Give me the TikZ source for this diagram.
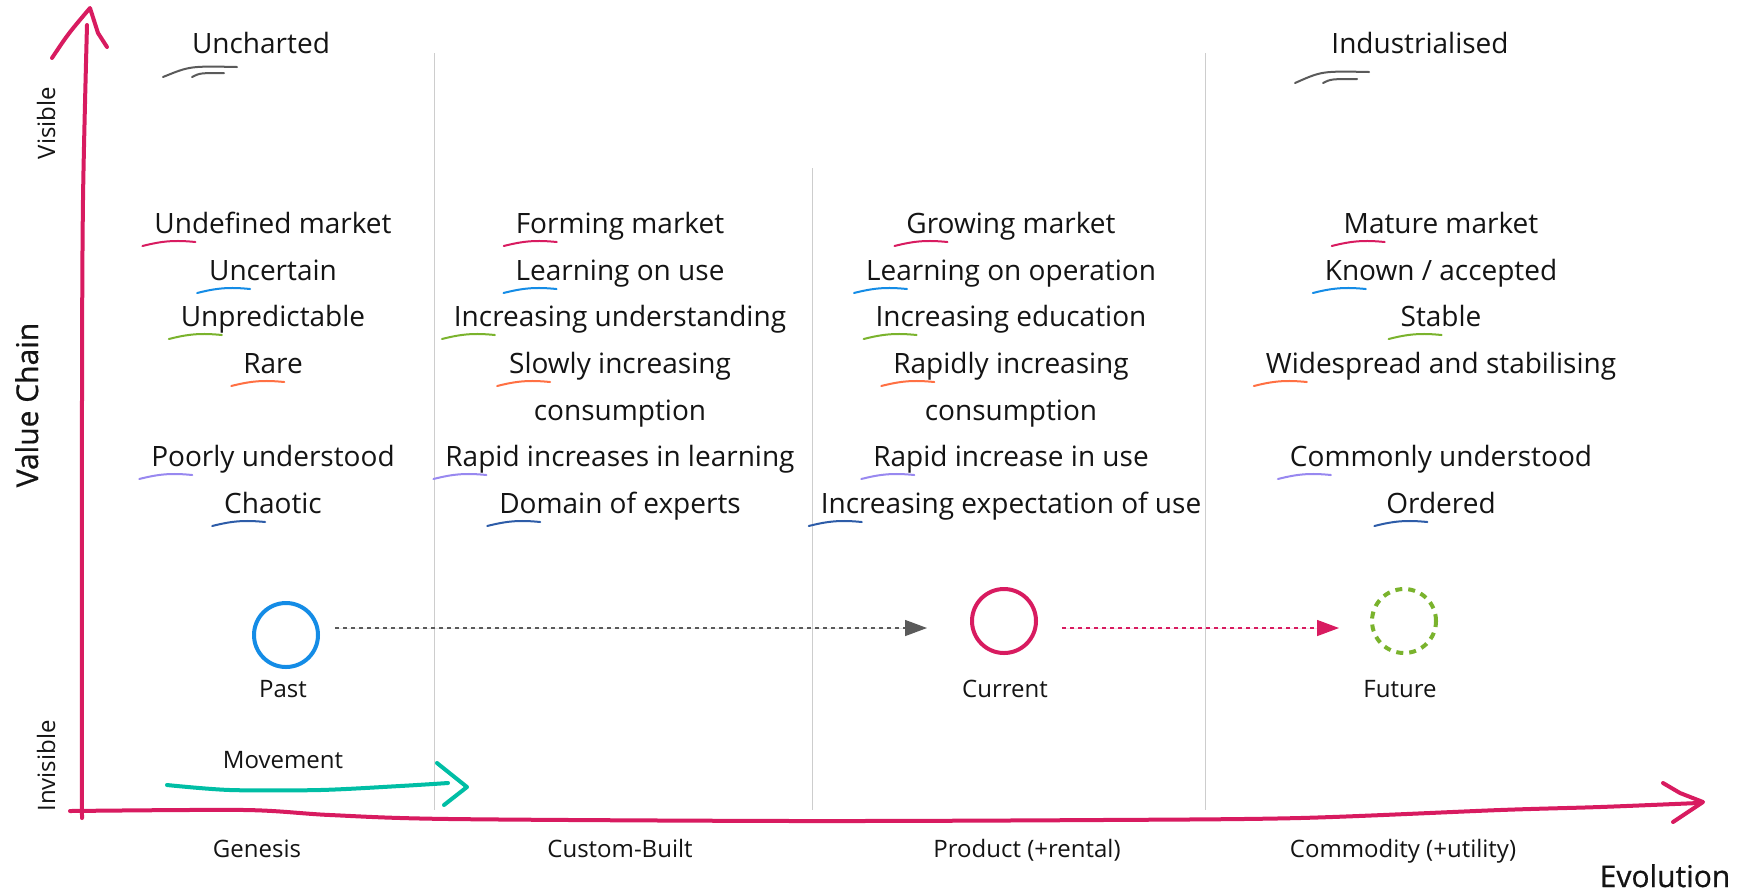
\documentclass[tikz,border=0pt]{standalone}
\usepackage{fontspec}
\setmainfont{Open Sans}
\newfontfamily\axisfont[FakeBold=0.6]{Open Sans}
\usepackage{tikz}
\usetikzlibrary{arrows.meta,calc}

% short coloured stroke under the start of a text node
\newcommand{\underscrib}[2]{%
  \draw[scrib,draw=#2] ($(#1.base west)+(-12,13)$) to[bend left=10] ($(#1.base west)+(41,9)$);}

\begin{document}
\begin{tikzpicture}[x=0.5pt,y=-0.5pt,
  lbl/.style={text=textColor,anchor=base,inner sep=0pt,outer sep=0pt,font=\fontsize{14}{16}\selectfont},
  small/.style={lbl,font=\fontsize{12}{14}\selectfont},
  big/.style={lbl,font=\axisfont\fontsize{15}{17}\selectfont},
  axis/.style={draw=axisPink,line width=2pt,line cap=round,line join=round},
  divider/.style={draw=dividerGray,line width=0.5pt},
  scrib/.style={line width=1pt,line cap=round},
  stage/.style={circle,minimum size=32pt,inner sep=0pt,line width=2pt},
  trend/.style={line width=0.7pt,dash pattern=on 2pt off 2pt,-{Triangle[length=11pt,width=8pt]}},
  move/.style={draw=moveTeal,line width=2pt,line cap=round,line join=round}]
\definecolor{fillColor}{RGB}{255,255,255}
\definecolor{textColor}{RGB}{20,20,20}
\definecolor{axisPink}{RGB}{216,27,96}
\definecolor{dividerGray}{RGB}{205,205,205}
\definecolor{scribGray}{RGB}{90,90,90}
\definecolor{rowPink}{RGB}{216,27,96}
\definecolor{rowBlue}{RGB}{20,140,230}
\definecolor{rowGreen}{RGB}{122,179,45}
\definecolor{rowOrange}{RGB}{255,112,67}
\definecolor{rowPurple}{RGB}{152,136,240}
\definecolor{rowNavy}{RGB}{45,92,168}
\definecolor{moveTeal}{RGB}{0,190,165}
\definecolor{trendGray}{RGB}{90,90,90}
\path[use as bounding box,fill=fillColor] (0,0) rectangle (1744,891);

% stage dividers
\path[divider] (434,53) -- (434,810);
\path[divider] (812,168) -- (812,810);
\path[divider] (1205,53) -- (1205,810);

% axes
\path[axis] plot[smooth] coordinates {(82,818) (82,400) (83,200) (87,25)};
\path[axis] (52,58) .. controls (68,34) .. (90,8) -- (98,33) -- (107,47);
\path[axis] plot[smooth] coordinates {(70,811) (245,810) (330,815) (450,819) (800,821)
    (1100,820) (1300,818) (1500,810) (1600,807) (1698,803)};
\path[axis] (1663,783) -- (1680,793) -- (1703,802) -- (1673,822);

\node[big,rotate=90] (valuechain) at (38,405) {Value Chain};
\node[small,rotate=90] (visible) at (55,123) {Visible};
\node[small,rotate=90] (invisible) at (55,766) {Invisible};
\node[big] (evolution) at (1665,887) {Evolution};

% top labels
\node[lbl] (uncharted) at (261,53) {Uncharted};
\node[lbl] (industrialised) at (1420,53) {Industrialised};
\draw[scrib,draw=scribGray] (163,77) .. controls (190,66) .. (237,67);
\draw[scrib,draw=scribGray] (192,77) .. controls (200,73) .. (224,73);
\draw[scrib,draw=scribGray] (1295,83) .. controls (1322,71) .. (1369,72);
\draw[scrib,draw=scribGray] (1323,83) .. controls (1331,79) .. (1357,79);

% genesis
\node[lbl] (gen1) at (273,233) {Undefined market};
\node[lbl] (gen2) at (273,280) {Uncertain};
\node[lbl] (gen3) at (273,326) {Unpredictable};
\node[lbl] (gen4) at (273,373) {Rare};
\node[lbl] (gen6) at (273,466) {Poorly understood};
\node[lbl] (gen7) at (273,513) {Chaotic};
\underscrib{gen1}{rowPink}
\underscrib{gen2}{rowBlue}
\underscrib{gen3}{rowGreen}
\underscrib{gen4}{rowOrange}
\underscrib{gen6}{rowPurple}
\underscrib{gen7}{rowNavy}

% custom-built
\node[lbl] (cus1) at (620,233) {Forming market};
\node[lbl] (cus2) at (620,280) {Learning on use};
\node[lbl] (cus3) at (620,326) {Increasing understanding};
\node[lbl] (cus4) at (620,373) {Slowly increasing};
\node[lbl] (cus5) at (620,420) {consumption};
\node[lbl] (cus6) at (620,466) {Rapid increases in learning};
\node[lbl] (cus7) at (620,513) {Domain of experts};
\underscrib{cus1}{rowPink}
\underscrib{cus2}{rowBlue}
\underscrib{cus3}{rowGreen}
\underscrib{cus4}{rowOrange}
\underscrib{cus6}{rowPurple}
\underscrib{cus7}{rowNavy}

% product
\node[lbl] (pro1) at (1011,233) {Growing market};
\node[lbl] (pro2) at (1011,280) {Learning on operation};
\node[lbl] (pro3) at (1011,326) {Increasing education};
\node[lbl] (pro4) at (1011,373) {Rapidly increasing};
\node[lbl] (pro5) at (1011,420) {consumption};
\node[lbl] (pro6) at (1011,466) {Rapid increase in use};
\node[lbl] (pro7) at (1011,513) {Increasing expectation of use};
\underscrib{pro1}{rowPink}
\underscrib{pro2}{rowBlue}
\underscrib{pro3}{rowGreen}
\underscrib{pro4}{rowOrange}
\underscrib{pro6}{rowPurple}
\underscrib{pro7}{rowNavy}

% commodity
\node[lbl] (com1) at (1441,233) {Mature market};
\node[lbl] (com2) at (1441,280) {Known / accepted};
\node[lbl] (com3) at (1441,326) {Stable};
\node[lbl] (com4) at (1441,373) {Widespread and stabilising};
\node[lbl] (com6) at (1441,466) {Commonly understood};
\node[lbl] (com7) at (1441,513) {Ordered};
\underscrib{com1}{rowPink}
\underscrib{com2}{rowBlue}
\underscrib{com3}{rowGreen}
\underscrib{com4}{rowOrange}
\underscrib{com6}{rowPurple}
\underscrib{com7}{rowNavy}

% stages in time
\node[stage,draw=rowBlue] (past) at (286,635) {};
\node[stage,draw=rowPink] (current) at (1004,621) {};
\node[stage,draw=rowGreen,dash pattern=on 3.5pt off 3pt] (future) at (1404,621) {};
\node[small] (pastlbl) at (283,697) {Past};
\node[small] (currentlbl) at (1005,697) {Current};
\node[small] (futurelbl) at (1400,697) {Future};
\draw[trend,draw=trendGray,fill=trendGray] ($(past.east)+(15,-7)$) -- ($(current.west)+(-43,7)$);
\draw[trend,draw=rowPink,fill=rowPink] ($(current.east)+(24,7)$) -- ($(future.west)+(-31,7)$);

% movement
\node[small] (movement) at (283,768) {Movement};
\path[move] plot[smooth] coordinates {(167,785) (230,790) (320,790) (400,786) (448,783)};
\path[move] (437,763) -- (467,787) -- (444,805);

% evolution stages
\node[small] (genesis) at (257,857) {Genesis};
\node[small] (custom) at (620,857) {Custom-Built};
\node[small] (product) at (1027,857) {Product (+rental)};
\node[small] (commodity) at (1403,857) {Commodity (+utility)};
\end{tikzpicture}
\end{document}
